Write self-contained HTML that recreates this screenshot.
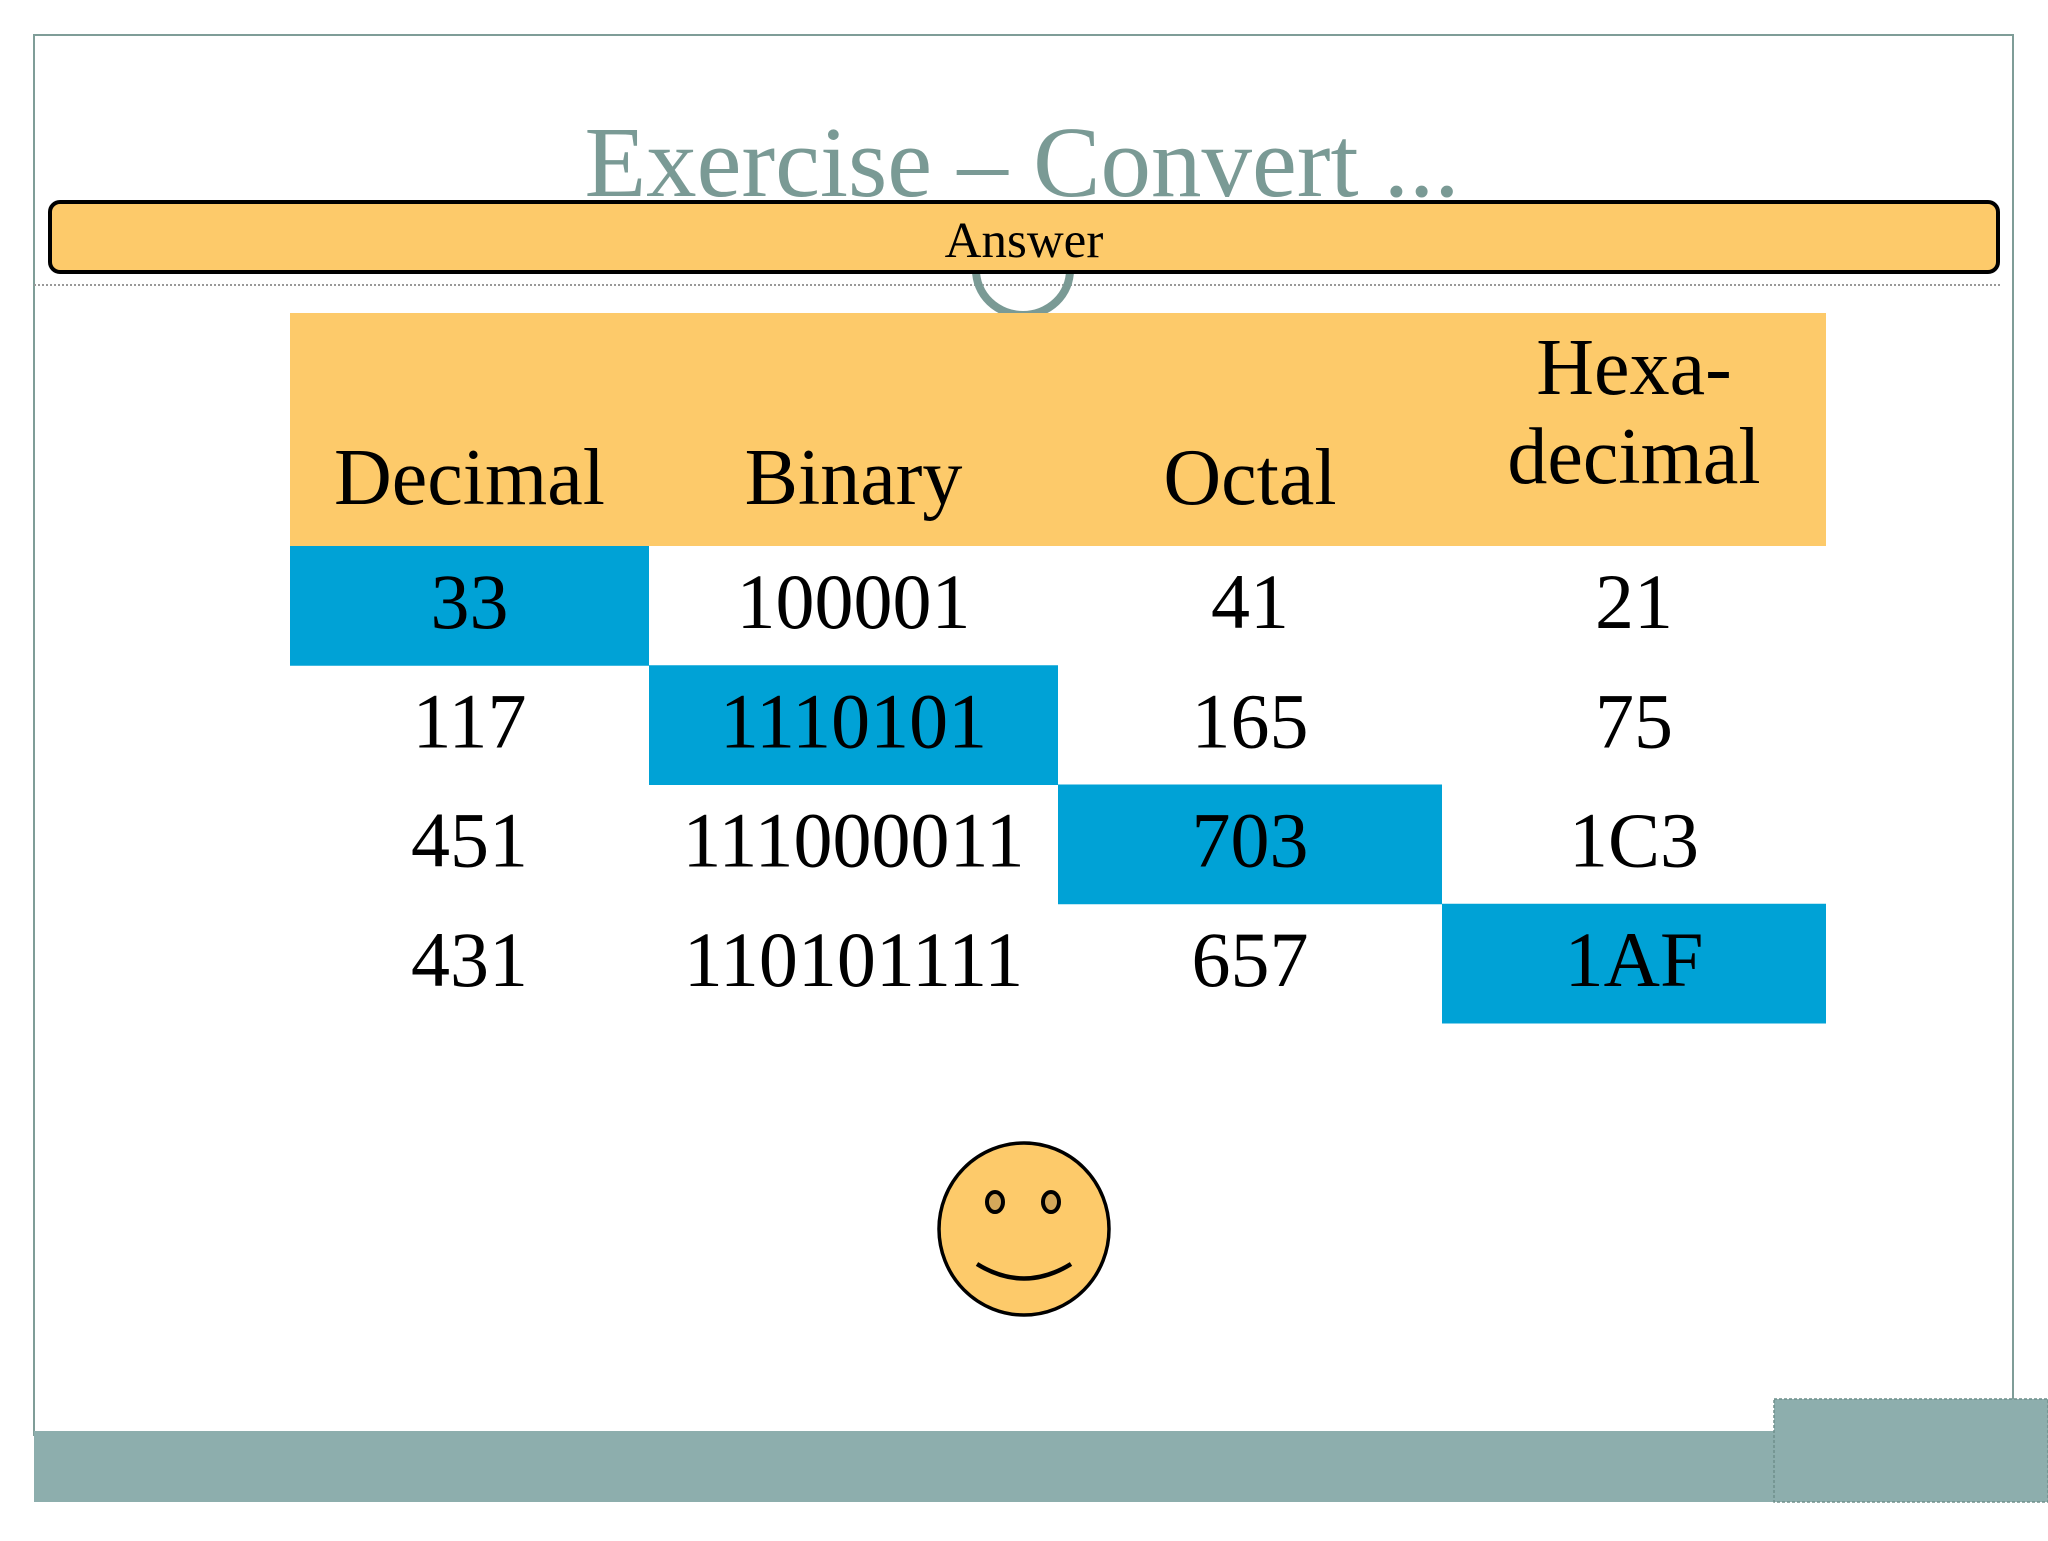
<!DOCTYPE html>
<html><head><meta charset="utf-8"><style>
body{margin:0;width:2048px;height:1536px;background:#fff;overflow:hidden;font-family:"Liberation Serif",serif;}
</style></head><body>
<svg width="2048" height="1536" xmlns="http://www.w3.org/2000/svg">
<rect x="34" y="35" width="1979" height="1400" fill="#fff" stroke="#7f9d98" stroke-width="2"/>
<rect x="34" y="1431" width="2014" height="71" fill="#8daead"/>
<rect x="1774" y="1399" width="274" height="103" fill="#8daead" stroke="#6f8f8c" stroke-width="1.5" stroke-dasharray="3 2"/>
<text x="1022" y="196" text-anchor="middle" font-size="101" fill="#7a9a95">Exercise – Convert ...</text>
<line x1="34" y1="285" x2="2000" y2="285" stroke="#999" stroke-width="2" stroke-dasharray="2 2"/>
<ellipse cx="1023" cy="270" rx="47" ry="45" fill="none" stroke="#7a9a95" stroke-width="8"/>
<rect x="50" y="202" width="1948" height="70" rx="10" fill="#fdca6a" stroke="#000" stroke-width="4"/>
<text x="1024" y="257" text-anchor="middle" font-size="51" fill="#000">Answer</text>
<g id="tbl"></g>
<g>
<ellipse cx="1024" cy="1229" rx="85" ry="86" fill="#fdca6a" stroke="#000" stroke-width="3.5"/>
<ellipse cx="995" cy="1202" rx="8" ry="10" fill="#d4a85a" stroke="#000" stroke-width="4"/>
<ellipse cx="1051" cy="1202" rx="8" ry="10" fill="#d4a85a" stroke="#000" stroke-width="4"/>
<path d="M977 1264 Q1024 1293 1071 1264" fill="none" stroke="#000" stroke-width="4.5"/>
</g>
</svg>
<script>
const headers=[["Decimal"],["Binary"],["Octal"],["Hexa-","decimal"]];
const rows=[["33","100001","41","21"],["117","1110101","165","75"],["451","111000011","703","1C3"],["431","110101111","657","1AF"]];
const colX=[290,649,1058,1442,1826];
const headTop=313, headBot=546, rowH=119.25;
const NS="http://www.w3.org/2000/svg";
const g=document.getElementById('tbl');
function mk(t,a){const e=document.createElementNS(NS,t);for(const k in a)e.setAttribute(k,a[k]);g.appendChild(e);return e;}
const hb=mk('rect',{x:colX[0],y:headTop,width:colX[4]-colX[0],height:headBot-headTop,fill:'#fdca6a'});


headers.forEach((h,i)=>{
  const cx=(colX[i]+colX[i+1])/2;
  h.forEach((line,j)=>{
    const y = h.length===1 ? 504 : 394+j*89;
    const t=mk('text',{x:cx,y:y,'text-anchor':'middle','font-size':80,fill:'#000'});
    t.textContent=line;
    
    
  });
});
rows.forEach((r,ri)=>{
  const top=headBot+ri*rowH;
  const hl=mk('rect',{x:colX[ri],y:top,width:colX[ri+1]-colX[ri],height:rowH+0.5,fill:'#00a2d6'});
  
  
  r.forEach((v,ci)=>{
    const t=mk('text',{x:(colX[ci]+colX[ci+1])/2,y:top+82,'text-anchor':'middle','font-size':78,fill:'#000'});
    t.textContent=v;
    
    
  });
});
</script>
</body></html>
